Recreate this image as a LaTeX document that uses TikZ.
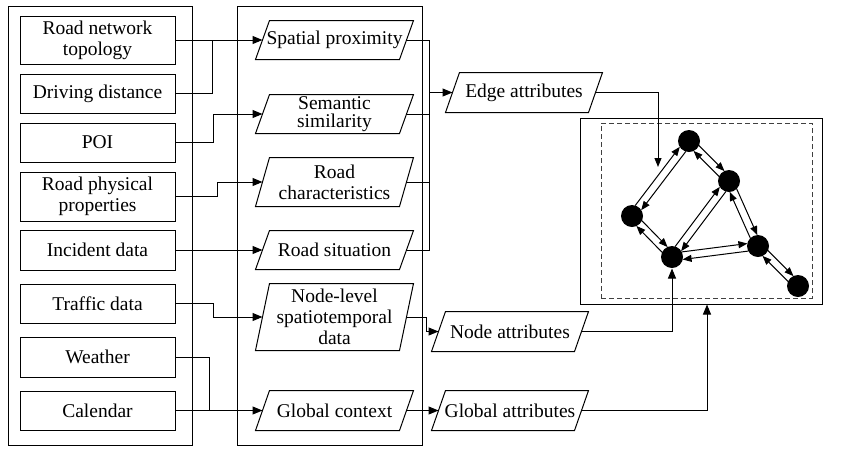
\documentclass[tikz,border=0pt]{standalone}
\usepackage{fontspec}
\setmainfont{Liberation Serif}
\usetikzlibrary{arrows.meta,calc}
\begin{document}
\begin{tikzpicture}[x=1pt,y=-1pt, line width=1pt,
  font=\fontsize{19.5}{21}\selectfont,
  lbox/.style={draw, minimum width=155pt, inner sep=0pt, align=center},
  pbox/.style={inner sep=0pt, align=center},
  colbox/.style={draw, inner sep=0pt},
  arr/.style={-{Triangle[length=10pt,width=8pt]}},
  garr/.style={-{Triangle[length=9pt,width=7pt]}, shorten >=10.2pt, shorten <=10.2pt},
  gnode/.style={circle, fill=black, minimum size=22pt, inner sep=0pt}]
\useasboundingbox (0,0) rectangle (841,459);
% containers
\node[colbox, minimum width=184pt, minimum height=439pt] (lcol) at (100,225.5) {};
\node[colbox, minimum width=185pt, minimum height=439pt] (mcol) at (329.5,225.5) {};
% left boxes
\node[lbox, minimum height=48pt] (rnt) at (97.5,40) {Road network\\topology};
\node[lbox, minimum height=39pt] (dd) at (97.5,93.5) {Driving distance};
\node[lbox, minimum height=39pt] (poi) at (97.5,142.5) {POI};
\node[lbox, minimum height=49pt] (rpp) at (97.5,196.5) {Road physical\\properties};
\node[lbox, minimum height=40pt] (inc) at (97.5,250) {Incident data};
\node[lbox, minimum height=39pt] (tr) at (97.5,303.5) {Traffic data};
\node[lbox, minimum height=40pt] (we) at (97.5,357) {Weather};
\node[lbox, minimum height=39pt] (cal) at (97.5,410.5) {Calendar};
% middle parallelograms
\node[pbox, minimum width=157pt, minimum height=38pt] (sp) at (334.5,40) {Spatial proximity};
\node[pbox, minimum width=157pt, minimum height=38pt, font=\fontsize{19.5}{18}\selectfont] (ss) at (334.5,114) {Semantic\\similarity};
\node[pbox, minimum width=157pt, minimum height=48pt] (rc) at (334.5,182) {Road\\characteristics};
\node[pbox, minimum width=157pt, minimum height=38pt] (rs) at (334.5,250) {Road situation};
\node[pbox, minimum width=157pt, minimum height=66pt] (nl) at (334.5,317) {Node-level\\spatiotemporal\\data};
\node[pbox, minimum width=157pt, minimum height=39pt] (gc) at (334.5,410.5) {Global context};
% attribute parallelograms
\node[pbox, minimum width=156pt, minimum height=39pt] (ea) at (524,92.5) {Edge attributes};
\node[pbox, minimum width=156pt, minimum height=39pt] (na) at (510,331.5) {Node attributes};
\node[pbox, minimum width=156pt, minimum height=39pt] (ga) at (510,410.5) {Global attributes};
\foreach \n in {sp,ss,rc,rs,nl,gc,ea,na,ga}
  \draw ([xshift=14pt]\n.north west) -- (\n.north east) -- ([xshift=-14pt]\n.south east) -- (\n.south west) -- cycle;
% graph box
\node[colbox, minimum width=242pt, minimum height=186pt] (gbox) at (701,211) {};
\node[draw=black!75, dash pattern=on 5pt off 3pt, inner sep=0pt, minimum width=211pt, minimum height=175pt] (gdash) at (706.5,210.5) {};
\node[gnode] (A) at (689,141) {};
\node[gnode] (B) at (729,181) {};
\node[gnode] (C) at (632,216) {};
\node[gnode] (D) at (672,257) {};
\node[gnode] (E) at (758,246) {};
\node[gnode] (F) at (798,286) {};
\foreach \a/\b in {A/C,A/B,B/D,B/E,C/D,D/E,E/F}{
  \draw[garr] ($(\a)!3.8pt!90:(\b)$) -- ($(\b)!3.8pt!-90:(\a)$);
  \draw[garr] ($(\b)!3.8pt!90:(\a)$) -- ($(\a)!3.8pt!-90:(\b)$);
}
% left connectors
\draw[arr] (rnt.east) -- ([xshift=7pt]sp.west);
\draw (dd.east) -| ($(rnt.east)+(37,0)$);
\draw[arr] (poi.east) -- ++(38,0) |- ([xshift=7pt]ss.west);
\draw[arr] (rpp.east) -- ++(42,0) |- ([xshift=7pt]rc.west);
\draw[arr] (inc.east) -- ([xshift=7pt]rs.west);
\draw[arr] (tr.east) -- ++(38,0) |- ([xshift=7pt]nl.west);
\draw (we.east) -| ($(cal.east)+(34,0)$);
\draw[arr] (cal.east) -- ([xshift=7pt]gc.west);
% bus to edge attributes
\coordinate (bus) at (429,92.5);
\draw ([xshift=-7pt]sp.east) -| (bus);
\draw ([xshift=-7pt]rs.east) -| (bus);
\draw ([xshift=-7pt]ss.east) -- (ss.east -| bus);
\draw ([xshift=-7pt]rc.east) -- (rc.east -| bus);
\draw[arr] (bus) -- ([xshift=7pt]ea.west);
\coordinate (eaend) at (658,167);
\draw[-{Triangle[length=9pt,width=7pt]}] ([xshift=-7pt]ea.east) -| (eaend);
% node / global
\draw[arr] ([xshift=-7pt]nl.east) -- ++(20,0) |- ([xshift=7pt]na.west);
\draw[arr] ([xshift=-7pt]na.east) -| (D.south);
\draw[arr] ([xshift=-7pt]gc.east) -- ([xshift=7pt]ga.west);
\draw[arr] ([xshift=-7pt]ga.east) -| ([xshift=6pt]gbox.south);
\end{tikzpicture}
\end{document}
